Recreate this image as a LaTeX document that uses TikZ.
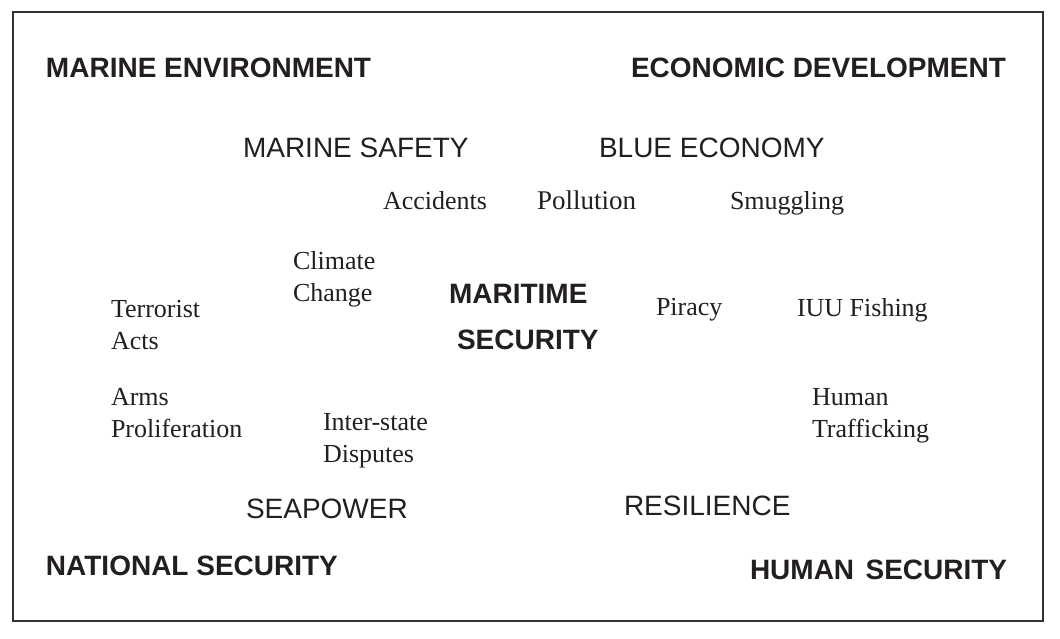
\documentclass[tikz,border=0pt]{standalone}
\usepackage{fontspec}
\setmainfont{Liberation Serif}
\newfontfamily\arialfont{Liberation Sans}
\definecolor{ink}{RGB}{35,31,32}
\definecolor{framec}{RGB}{51,51,51}
\begin{document}
\begin{tikzpicture}[x=0.5pt,y=-0.5pt,
  every node/.style={inner sep=0pt,outer sep=0pt,anchor=base west,text=ink},
  bigtitle/.style={font=\arialfont\bfseries\fontsize{14}{17}\selectfont},
  midtitle/.style={font=\arialfont\fontsize{14}{17}\selectfont},
  item/.style={font=\fontsize{13}{16}\selectfont,align=left},
  itemlarge/.style={font=\fontsize{13.5}{16}\selectfont,align=left}]
\useasboundingbox (0,0) rectangle (1060,638);
\fill[white] (0,0) rectangle (1060,638);
\draw[framec,line width=1pt] (13,12) rectangle (1043,621);
% corner titles
\node[bigtitle] (menv) at (46,77) {MARINE ENVIRONMENT};
\node[bigtitle] (edev) at (631,77) {ECONOMIC DEVELOPMENT};
\node[bigtitle] (nsec) at (46,575) {NATIONAL SECURITY};
\node[bigtitle] (hsec) at (750,579) {HUMAN\hspace{5.7pt}SECURITY};
% middle titles
\node[midtitle] (msafe) at (243,157) {MARINE SAFETY};
\node[midtitle] (blue) at (599,157) {BLUE ECONOMY};
\node[midtitle] (seap) at (246,518) {SEAPOWER};
\node[midtitle] (resil) at (624,515) {RESILIENCE};
% centre
\node[bigtitle] (mar) at (449,303) {MARITIME};
\node[bigtitle] (sec) at (457,349) {SECURITY};
% threats (multi-line nodes: base anchor sits on the last line)
\node[item] (acc) at (383,209) {Accidents};
\node[itemlarge] (poll) at (537,209) {Pollution};
\node[item] (smug) at (730,209) {Smuggling};
\node[item] (clim) at (293,301) {Climate\\Change};
\node[item] (terr) at (111,349) {Terrorist\\Acts};
\node[item] (pir) at (656,315) {Piracy};
\node[item] (iuu) at (797,316) {IUU Fishing};
\node[item] (arms) at (111,437) {Arms\\Proliferation};
\node[item] (inter) at (323,462) {Inter-state\\Disputes};
\node[item] (human) at (812,437) {Human\\Trafficking};
\end{tikzpicture}
\end{document}
